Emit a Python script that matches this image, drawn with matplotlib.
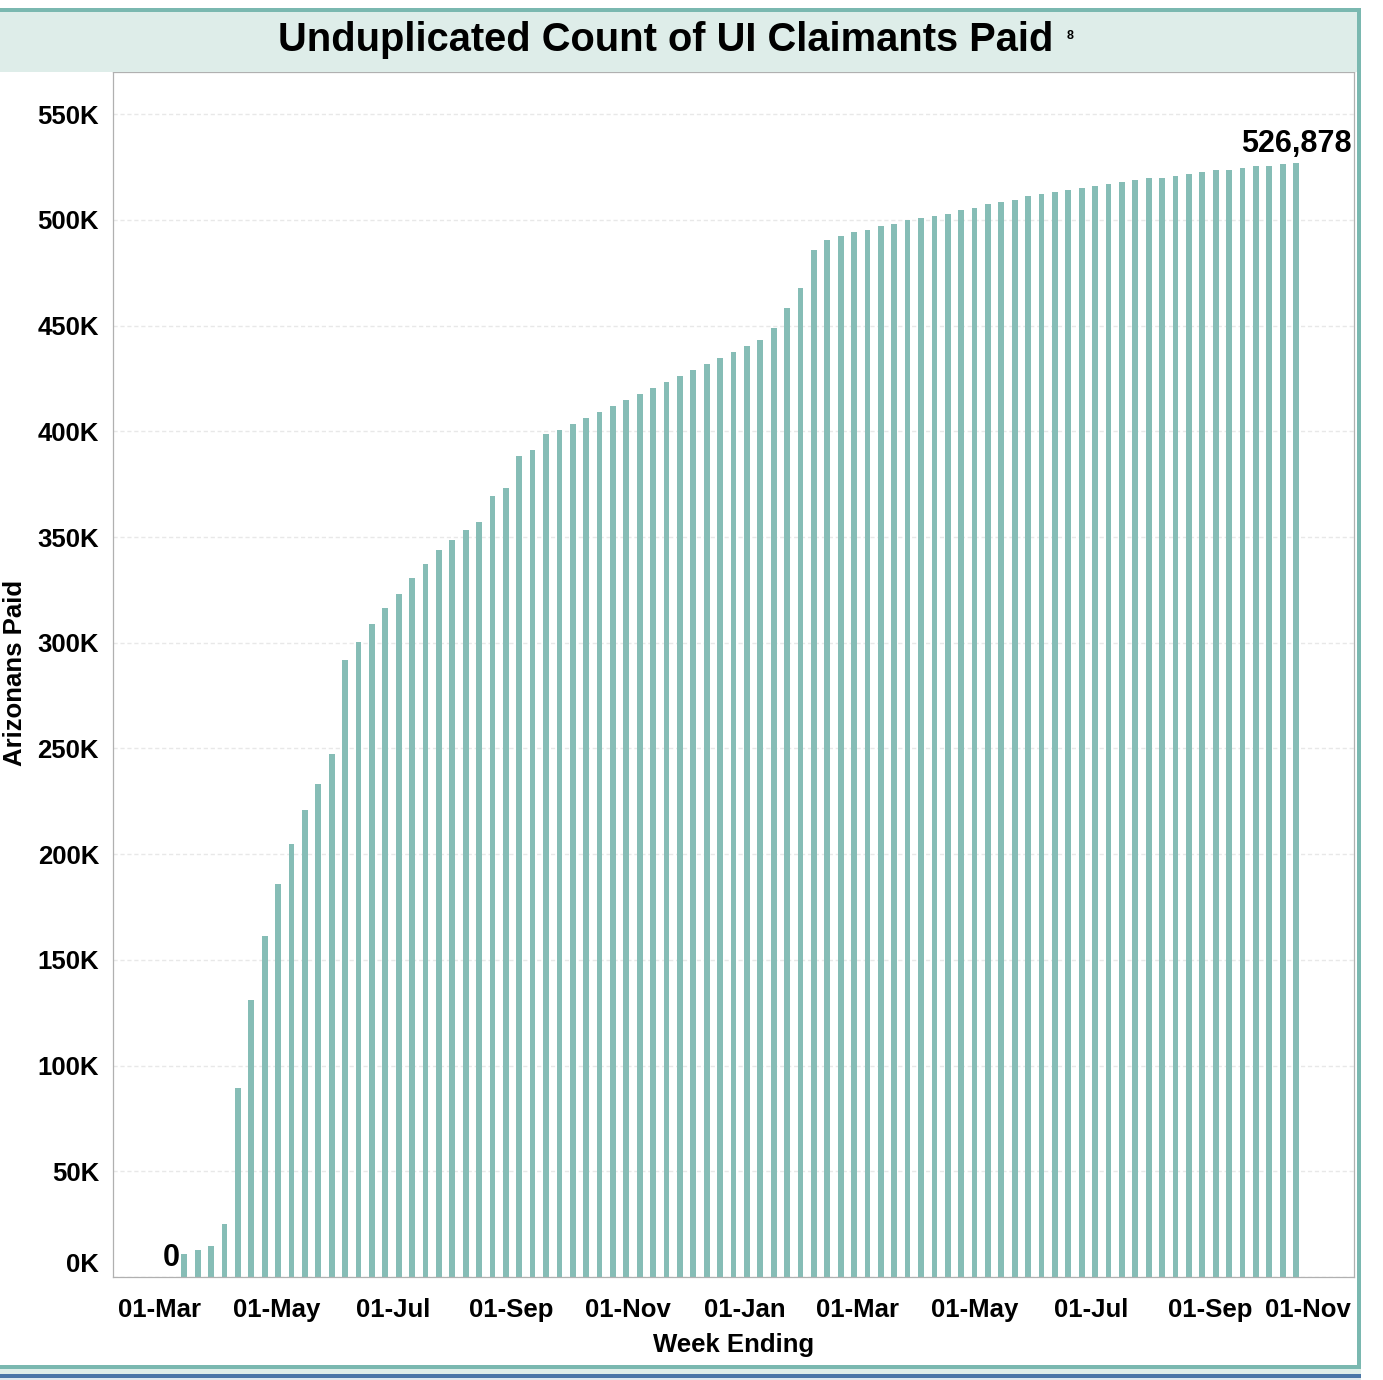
import numpy as np
import pandas as pd
import matplotlib
matplotlib.use("Agg")
import matplotlib.pyplot as plt
import matplotlib.dates as mdates
from matplotlib.patches import Rectangle
from matplotlib.transforms import ScaledTranslation

# CONFIG
BAR_COLOR   = "#86bdb6"
TEAL_LINE   = "#7ab8b0"
BAND_COLOR  = "#deede9"
BLUE_LINE   = "#4a76a8"
FRAME_COLOR = "#b0b0b0"
GRID_COLOR  = "#e8e8e8"
FONT_SIZE   = 18.5

plt.rcParams["font.family"] = ["Liberation Sans", "DejaVu Sans"]
plt.rcParams["font.weight"] = "bold"

# DATA (weekly cumulative count, in thousands)
week_ending = pd.date_range("2020-03-07", periods=85, freq="7D")
paid_k = [
    0, 10.9, 12.8, 14.7, 25.0, 89.4, 131.0, 161.3, 185.9, 204.8,
    220.9, 233.2, 247.3, 291.8, 300.3, 308.8, 316.4, 323.0, 330.6, 337.2,
    343.8, 348.5, 353.3, 357.0, 369.3, 373.1, 388.3, 391.1, 398.7, 400.6,
    403.4, 406.2, 409.1, 411.9, 414.8, 417.6, 420.4, 423.3, 426.1, 429.0,
    431.8, 434.6, 437.5, 440.3, 443.1, 448.8, 458.3, 467.7, 485.7, 490.4,
    492.3, 494.2, 495.2, 497.0, 498.0, 499.9, 500.9, 501.8, 502.8, 504.6,
    505.6, 507.5, 508.4, 509.3, 511.2, 512.2, 513.1, 514.1, 515.0, 516.0,
    516.9, 517.9, 518.8, 519.7, 519.7, 520.7, 521.6, 522.6, 523.5, 523.5,
    524.5, 525.4, 525.4, 526.4, 526.878,
]
last_value = 526878
y_ticks_k = [0, 50, 100, 150, 200, 250, 300, 350, 400, 450, 500, 550]
x_tick_dates = pd.to_datetime([
    "2020-03-01", "2020-05-01", "2020-07-01", "2020-09-01", "2020-11-01",
    "2021-01-01", "2021-03-01", "2021-05-01", "2021-07-01", "2021-09-01",
    "2021-11-01",
])

# FIGURE
W, H = 1383, 1380
fig = plt.figure(figsize=(W / 100, H / 100), dpi=100)

def px_rect(x0, y0, x1, y1, color):
    # rectangle in pixel coords measured from top-left
    fig.patches.append(Rectangle((x0 / W, 1 - y1 / H), (x1 - x0) / W, (y1 - y0) / H,
                                 transform=fig.transFigure, color=color,
                                 zorder=0, linewidth=0))

# title band and frame lines
px_rect(0, 12, 1357, 72, BAND_COLOR)
px_rect(0, 8, 1361, 12, TEAL_LINE)
px_rect(1357, 8, 1361, 1369, TEAL_LINE)
px_rect(0, 1365, 1361, 1369, TEAL_LINE)
px_rect(0, 1369, 1361, 1374, BAND_COLOR)
px_rect(0, 1374, 1361, 1378, BLUE_LINE)
px_rect(0, 1378, 1361, 1380, "#dde8ee")

fig.text(665.5 / W, 1 - 40 / H, "Unduplicated Count of UI Claimants Paid",
         ha="center", va="center", fontsize=28.7, fontweight="bold")
fig.text(1070 / W, 1 - 36 / H, "8", ha="center", va="center", fontsize=9)

ax = fig.add_axes([113 / W, 1 - 1277 / H, (1354 - 113) / W, (1277 - 72) / H])

ax.bar(week_ending, paid_k, width=3, color=BAR_COLOR, zorder=2)

# labels on first and last bars
ax.annotate("0", (week_ending[0], paid_k[0]), xytext=(0, 3),
            textcoords="offset points", ha="center", va="bottom",
            fontsize=22, fontweight="bold")
ax.annotate(f"{last_value:,}", (week_ending[-1], paid_k[-1]), xytext=(0, 3),
            textcoords="offset points", ha="center", va="bottom",
            fontsize=22, fontweight="bold")

ax.set_ylim(0, 570)
ax.set_xlim(week_ending[0] - pd.Timedelta(days=30.3),
            week_ending[-1] + pd.Timedelta(days=30.3))

ax.set_yticks(y_ticks_k)
ax.set_yticklabels([f"{v}K" for v in y_ticks_k])
ax.set_xticks(x_tick_dates)
ax.xaxis.set_major_formatter(mdates.DateFormatter("%d-%b"))

ax.yaxis.grid(True, color=GRID_COLOR, linestyle=(0, (3, 2)), linewidth=1, zorder=0)
ax.set_axisbelow(True)
ax.tick_params(axis="both", length=0, labelsize=FONT_SIZE)
ax.tick_params(axis="y", pad=10)
ax.tick_params(axis="x", pad=15)
for lbl in ax.get_xticklabels() + ax.get_yticklabels():
    lbl.set_fontweight("bold")

for side in ["top", "right", "bottom", "left"]:
    ax.spines[side].set_color(FRAME_COLOR)
    ax.spines[side].set_linewidth(0.9)

# Tableau-style nudges for edge labels
ax.get_yticklabels()[0].set_transform(
    ax.get_yticklabels()[0].get_transform() + ScaledTranslation(0, 15 / 100, fig.dpi_scale_trans))
ax.get_xticklabels()[-1].set_transform(
    ax.get_xticklabels()[-1].get_transform() + ScaledTranslation(-19 / 100, 0, fig.dpi_scale_trans))

ax.set_xlabel("Week Ending", fontsize=FONT_SIZE, fontweight="bold", labelpad=8)
fig.text(15 / W, 1 - 673 / H, "Arizonans Paid", rotation=90, ha="center",
         va="center", fontsize=FONT_SIZE, fontweight="bold")

fig.savefig("out.png", dpi=100)
